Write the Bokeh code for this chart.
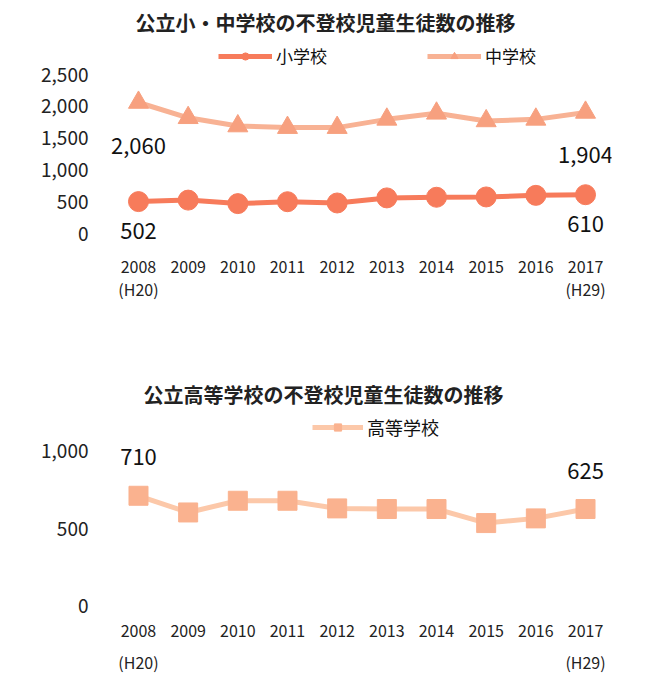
from bokeh.plotting import figure
from bokeh.models import (Range1d, FixedTicker, LinearAxis, Legend, LegendItem,
                          ColumnDataSource, NumeralTickFormatter)
from bokeh.layouts import column
from bokeh.embed import file_html
from bokeh.resources import INLINE
from bokeh.core.properties import value

# ---------------- data ----------------
years = [2008, 2009, 2010, 2011, 2012, 2013, 2014, 2015, 2016, 2017]
elementary = [502, 525, 470, 500, 480, 560, 570, 575, 600, 610]
middle = [2060, 1820, 1690, 1665, 1665, 1795, 1890, 1770, 1795, 1904]
high = [710, 603, 678, 678, 629, 625, 625, 535, 565, 625]
era_labels = {2008: "(H20)", 2017: "(H29)"}
top_yticks = [0, 500, 1000, 1500, 2000, 2500]
bottom_yticks = [0, 500, 1000]
title_top = "公立小・中学校の不登校児童生徒数の推移"
title_bottom = "公立高等学校の不登校児童生徒数の推移"
label_elem = "小学校"
label_mid = "中学校"
label_high = "高等学校"

FONT = "Noto Sans CJK JP"
C_ELEM = "#F77B5B"
C_MID_M = "#F7A07F"
C_MID_L = "#F8B294"
C_HIGH_M = "#FAB28F"
C_HIGH_L = "#FCC8A9"


def make_fig(height, y_start, y_end, yticks, min_top, min_bottom, title,
             title_standoff, title_offset):
    p = figure(width=640, height=height, output_backend="svg", toolbar_location=None,
               x_range=Range1d(2007.195, 2017.523), y_range=Range1d(y_start, y_end),
               min_border_left=98, min_border_right=29,
               min_border_top=min_top, min_border_bottom=min_bottom)
    p.title.text = title
    p.title.text_font = FONT
    p.title.text_font_size = "20px"
    p.title.text_font_style = "bold"
    p.title.align = "left"
    p.title.offset = title_offset
    p.title.standoff = title_standoff
    p.title.text_color = "#222222"
    p.outline_line_color = None
    p.xgrid.visible = False
    p.ygrid.visible = False
    p.background_fill_color = "white"
    p.border_fill_color = "white"

    p.yaxis.ticker = FixedTicker(ticks=yticks)
    p.yaxis.formatter = NumeralTickFormatter(format="0,0")
    p.yaxis.axis_line_color = None
    p.yaxis.major_tick_line_color = None
    p.yaxis.minor_tick_line_color = None
    p.yaxis.major_tick_out = 0
    p.yaxis.major_tick_in = 0
    p.yaxis.major_label_standoff = 10
    p.yaxis.major_label_text_font = FONT
    p.yaxis.major_label_text_font_size = "19px"
    p.yaxis.major_label_text_color = "#222222"

    p.xaxis.ticker = FixedTicker(ticks=years)
    p.xaxis.major_label_overrides = {y: str(y) for y in years}
    p.xaxis.axis_line_color = None
    p.xaxis.major_tick_line_color = None
    p.xaxis.minor_tick_line_color = None
    p.xaxis.major_tick_out = 0
    p.xaxis.major_tick_in = 0
    p.xaxis.major_label_text_font = FONT
    p.xaxis.major_label_text_font_size = "16px"
    p.xaxis.major_label_text_color = "#222222"

    era = LinearAxis(ticker=FixedTicker(ticks=list(era_labels.keys())),
                     major_label_overrides=dict(era_labels))
    era.axis_line_color = None
    era.major_tick_line_color = None
    era.minor_tick_line_color = None
    era.major_tick_out = 0
    era.major_tick_in = 0
    era.major_label_text_font = FONT
    era.major_label_text_font_size = "16px"
    era.major_label_text_color = "#222222"
    p.add_layout(era, "below")
    return p, era


def add_end_labels(p, vals, y_offset_first, y_offset_last):
    src = ColumnDataSource(dict(x=[years[0], years[-1]], y=[vals[0], vals[-1]],
                                t=[f"{vals[0]:,}", f"{vals[-1]:,}"],
                                yo=[y_offset_first, y_offset_last]))
    p.text(x="x", y="y", text="t", y_offset="yo", source=src,
           text_font=value(FONT), text_font_size="22px", text_color="#111111",
           text_align="center", text_baseline="middle")


def make_legend(items, loc, gw, font_size, spacing=0):
    return Legend(items=items, orientation="horizontal", location=loc,
                  glyph_width=gw, glyph_height=18, label_standoff=4, spacing=spacing,
                  padding=0, margin=0, border_line_color=None, background_fill_alpha=0,
                  label_text_font=FONT, label_text_font_size=font_size,
                  label_text_color="#111111", label_height=18)


# ---------------- top chart ----------------
p1, era1 = make_fig(308, -110, 3035, top_yticks, 40, 68, title_top, 8, 37)
p1.xaxis[0].major_label_standoff = 20
era1.major_label_standoff = 1

src = ColumnDataSource(dict(x=years, e=elementary, m=middle))
lm = p1.line("x", "m", source=src, line_color=C_MID_L, line_width=5, line_join="round")
sm = p1.scatter("x", "m", source=src, marker="triangle", size=20,
                fill_color=C_MID_M, line_color=C_MID_M)
le = p1.line("x", "e", source=src, line_color=C_ELEM, line_width=5, line_join="round")
se = p1.scatter("x", "e", source=src, marker="circle", size=20,
                fill_color=C_ELEM, line_color=C_ELEM)
add_end_labels(p1, middle, 43, 43)
add_end_labels(p1, elementary, 29, 29)

leg1 = make_legend([LegendItem(label=label_elem, renderers=[le, se]),
                    LegendItem(label=label_mid, renderers=[lm, sm])],
                   (120, 172), 54, "17px", spacing=100)
p1.add_layout(leg1)

# ---------------- bottom chart ----------------
p2, era2 = make_fig(368, -77, 1244, bottom_yticks, 104, 58, title_bottom, 8, 45)
p2.xaxis[0].major_label_standoff = 6
era2.major_label_standoff = 10

src2 = ColumnDataSource(dict(x=years, h=high))
lh = p2.line("x", "h", source=src2, line_color=C_HIGH_L, line_width=5, line_join="round")
sh = p2.scatter("x", "h", source=src2, marker="square", size=19,
                fill_color=C_HIGH_M, line_color=C_HIGH_M)
add_end_labels(p2, high, -39, -38)

leg2 = make_legend([LegendItem(label=label_high, renderers=[lh, sh])], (214, 178), 51, "18px")
p2.add_layout(leg2)

layout = column(p1, p2, spacing=0)
open("out.html", "w").write(file_html(layout, INLINE))
